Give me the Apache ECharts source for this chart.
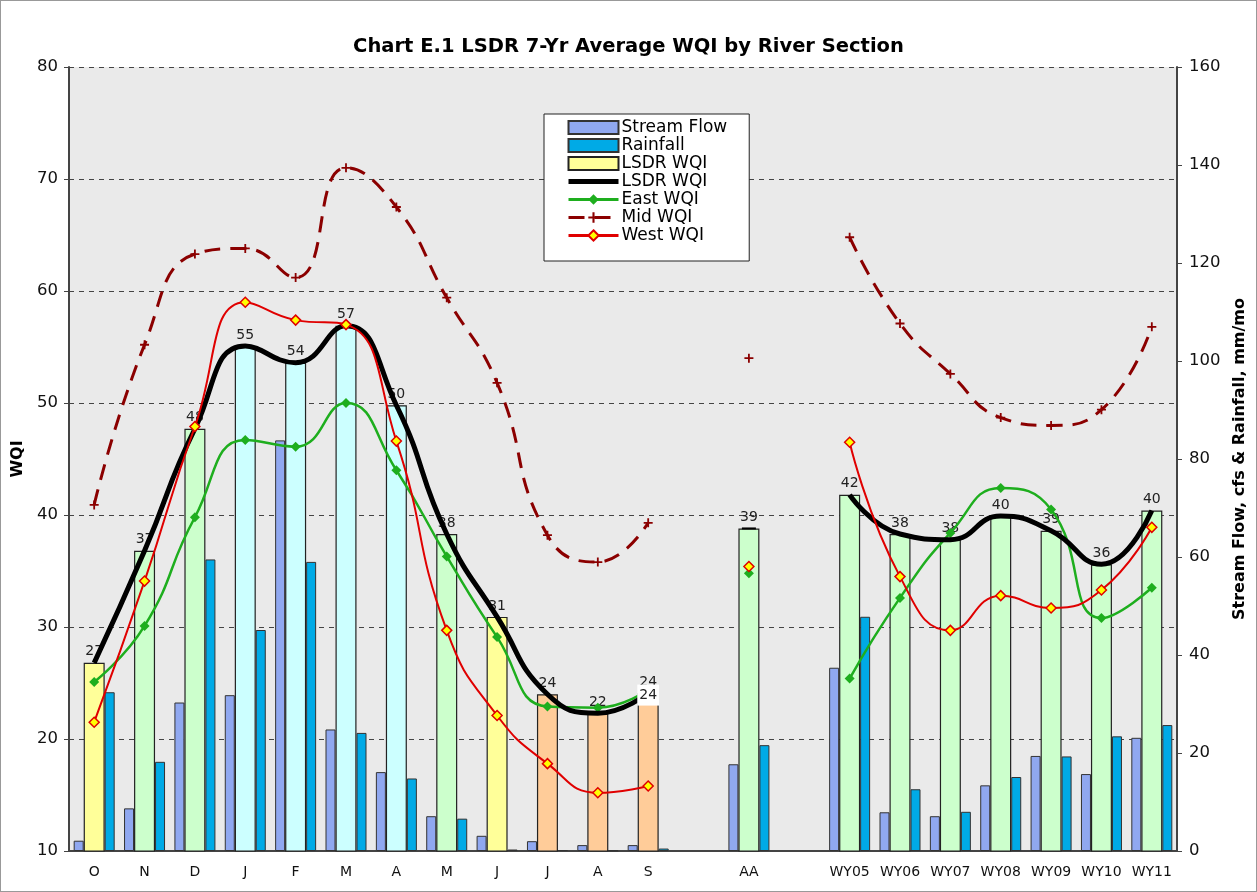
<!DOCTYPE html>
<html>
<head>
<meta charset="utf-8">
<script src="https://cdn.jsdelivr.net/npm/echarts@6/dist/echarts.min.js"></script>
<style>
    html, body { margin: 0; padding: 0; background: #fff; }
    #chart { width: 1257px; height: 892px; box-sizing: border-box; border: 1px solid #999; }
</style>
</head>
<body>
<div id="chart"></div>
<script>
// categories: months (Oct..Sep), all-years average, water years
const categories = ['O', 'N', 'D', 'J', 'F', 'M', 'A', 'M', 'J', 'J', 'A', 'S', '', 'AA', '', 'WY05', 'WY06', 'WY07', 'WY08', 'WY09', 'WY10', 'WY11'];

// right axis (cfs, mm/mo)
const streamFlow = [2.1, 8.7, 30.3, 31.8, 83.8, 24.8, 16.1, 7.1, 3.1, 2.0, 1.2, 1.2, null, 17.7, null, 37.4, 7.9, 7.1, 13.4, 19.4, 15.7, 23.1];
const rainfall = [32.4, 18.2, 59.5, 45.1, 59.0, 24.1, 14.8, 6.6, 0.3, 0.2, 0.1, 0.5, null, 21.6, null, 47.8, 12.6, 8.0, 15.1, 19.3, 23.4, 25.7];

// left axis (WQI)
const lsdrWqi = [26.8, 36.8, 47.7, 55.1, 53.6, 56.9, 49.8, 38.3, 30.9, 24.0, 22.3, 24.1, null, 38.8, null, 41.8, 38.3, 37.8, 39.9, 38.6, 35.6, 40.4];
const eastWqi = [25.1, 30.1, 39.8, 46.7, 46.1, 50.0, 44.0, 36.3, 29.1, 22.9, 22.8, 24.4, null, 34.8, null, 25.4, 32.6, 38.4, 42.4, 40.5, 30.8, 33.5];
const midWqi = [40.9, 55.2, 63.3, 63.8, 61.2, 71.0, 67.5, 59.4, 51.8, 38.2, 35.8, 39.3, null, 54.0, null, 64.8, 57.1, 52.6, 48.7, 48.0, 49.4, 56.8];
const westWqi = [21.5, 34.1, 47.9, 59.0, 57.4, 57.0, 46.6, 29.7, 22.1, 17.8, 15.2, 15.8, null, 35.4, null, 46.5, 34.5, 29.7, 32.8, 31.7, 33.3, 38.9];

// season group of each LSDR bar (picks the fill)
const wqiGroup = ['fall', 'wet', 'wet', 'winter', 'winter', 'winter', 'winter', 'wet', 'fall', 'summer', 'summer', 'summer', '', 'wet', '', 'wet', 'wet', 'wet', 'wet', 'wet', 'wet', 'wet'];

const leftTicks = { min: 10, max: 80, interval: 10 };
const rightTicks = { min: 0, max: 160, interval: 20 };

const groupColor = { fall: '#ffff99', wet: '#ccffcc', winter: '#ccffff', summer: '#ffcc99' };
const FONT = '"DejaVu Sans", Verdana, sans-serif';

var myChart = echarts.init(document.getElementById('chart'));

// bar data with per-bar fill
let wqiBars = lsdrWqi.map((v, i) => ({
    value: v,
    itemStyle: { color: groupColor[wqiGroup[i]] || '#ccffcc' }
}));

// black line: AA shows only a small dash, S gets the boxed duplicate label
let wqiLine = lsdrWqi.map((v, i) => {
    if (categories[i] == 'AA') {
        return { value: v, symbol: 'rect', symbolSize: [14, 2] };
    }
    if (i == 11) {
        return {
            value: v, symbol: 'rect', symbolSize: 1,
            label: {
                show: true, position: 'inside', offset: [0, 2],
                backgroundColor: '#fff', padding: [3, 2, 4, 2],
                color: '#222', fontSize: 14, fontFamily: FONT,
                formatter: (p) => Math.round(p.value)
            }
        };
    }
    return v;
});

myChart.setOption({
    animation: false,
    backgroundColor: '#fff',
    title: {
        text: 'Chart E.1 LSDR 7-Yr Average WQI by River Section',
        left: 'center',
        top: 31,
        textStyle: { fontFamily: FONT, fontSize: 19.5, fontWeight: 'bold', color: '#000' }
    },
    legend: {
        orient: 'vertical',
        left: 543,
        top: 113,
        padding: [5, 22, 17, 22],
        itemGap: 1,
        itemWidth: 50,
        itemHeight: 13,
        backgroundColor: '#fff',
        borderColor: '#222',
        borderWidth: 1,
        borderRadius: 0,
        textStyle: { fontFamily: FONT, fontSize: 17, color: '#000', padding: [0, 0, 0, -2] },
        data: [
            { name: 'Stream Flow', icon: 'rect' },
            { name: 'Rainfall', icon: 'rect' },
            { name: 'LSDR WQI', icon: 'rect' },
            { name: 'LSDR WQI ', itemStyle: { opacity: 0 }, lineStyle: { width: 5 } },
            { name: 'East WQI', lineStyle: { width: 3 } },
            { name: 'Mid WQI', lineStyle: { width: 3 } },
            { name: 'West WQI', lineStyle: { width: 3 } }
        ]
    },
    grid: {
        left: 68, right: 79, top: 66, bottom: 40,
        show: true,
        backgroundColor: '#eaeaea',
        borderWidth: 0
    },
    xAxis: {
        type: 'category',
        data: categories,
        axisLine: { lineStyle: { color: '#444', width: 2 } },
        axisTick: { show: false },
        axisLabel: { interval: 0, color: '#111', fontSize: 14, fontFamily: FONT, margin: 14 }
    },
    yAxis: [{
        type: 'value',
        min: leftTicks.min, max: leftTicks.max, interval: leftTicks.interval,
        name: 'WQI',
        nameLocation: 'middle',
        nameGap: 31,
        nameTextStyle: { fontFamily: FONT, fontSize: 16, fontWeight: 'bold', color: '#000' },
        axisLine: { show: true, lineStyle: { color: '#444', width: 2 } },
        axisTick: { show: true, length: 5, lineStyle: { color: '#444' } },
        axisLabel: { color: '#111', fontSize: 16.5, fontFamily: FONT, margin: 11 },
        splitLine: { show: true, lineStyle: { color: '#444', type: [5, 5], width: 1 } }
    }, {
        type: 'value',
        position: 'right',
        min: rightTicks.min, max: rightTicks.max, interval: rightTicks.interval,
        name: 'Stream Flow, cfs & Rainfall, mm/mo',
        nameLocation: 'middle',
        nameGap: 52,
        nameRotate: 90,
        nameTextStyle: { fontFamily: FONT, fontSize: 16, fontWeight: 'bold', color: '#000' },
        axisLine: { show: true, lineStyle: { color: '#444', width: 2 } },
        axisTick: { show: true, length: 5, lineStyle: { color: '#444' } },
        axisLabel: { color: '#111', fontSize: 16.5, fontFamily: FONT, margin: 12 },
        splitLine: { show: false }
    }],
    series: [{
        name: 'Stream Flow',
        type: 'bar',
        yAxisIndex: 1,
        barWidth: 10,
        barGap: 0,
        itemStyle: { color: '#90a8f0', borderColor: '#333', borderWidth: 1 },
        data: streamFlow
    }, {
        name: 'LSDR WQI',
        type: 'bar',
        yAxisIndex: 0,
        barWidth: 21,
        barGap: 0,
        itemStyle: { color: '#ffff99', borderColor: '#222', borderWidth: 1.2 },
        label: {
            show: true, position: 'top', distance: 4,
            color: '#222', fontSize: 14, fontFamily: FONT,
            formatter: (p) => Math.round(p.value)
        },
        data: wqiBars
    }, {
        name: 'Rainfall',
        type: 'bar',
        yAxisIndex: 1,
        barWidth: 10,
        barGap: 0,
        itemStyle: { color: '#00aae6', borderColor: '#333', borderWidth: 1 },
        data: rainfall
    }, {
        name: 'Mid WQI',
        type: 'line',
        yAxisIndex: 0,
        smooth: 0.5,
        symbol: 'path://M4,0H6V4H10V6H6V10H4V6H0V4H4Z',
        symbolSize: 9,
        itemStyle: { color: '#8b0000' },
        lineStyle: { color: '#8b0000', width: 3, type: [16, 10] },
        z: 3,
        data: midWqi
    }, {
        name: 'East WQI',
        type: 'line',
        yAxisIndex: 0,
        smooth: 0.5,
        symbol: 'diamond',
        symbolSize: 10,
        itemStyle: { color: '#1eae1e' },
        lineStyle: { color: '#1eae1e', width: 2.5 },
        z: 4,
        data: eastWqi
    }, {
        name: 'LSDR WQI ',
        type: 'line',
        yAxisIndex: 0,
        smooth: 0.5,
        symbol: 'none',
        itemStyle: { color: '#000' },
        lineStyle: { color: '#000', width: 5 },
        z: 5,
        data: wqiLine
    }, {
        name: 'West WQI',
        type: 'line',
        yAxisIndex: 0,
        smooth: 0.5,
        symbol: 'diamond',
        symbolSize: 10,
        itemStyle: { color: '#ffff00', borderColor: '#e00000', borderWidth: 1.5 },
        lineStyle: { color: '#e00000', width: 2 },
        z: 6,
        data: westWqi
    }]
});
</script>
</body>
</html>
